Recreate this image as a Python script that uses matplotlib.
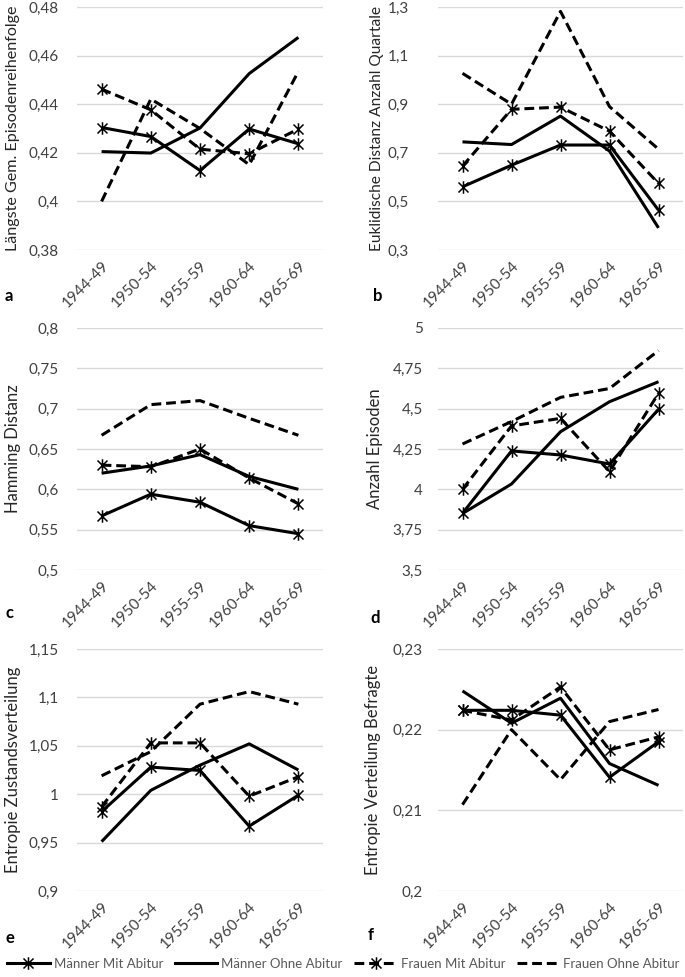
import matplotlib
matplotlib.use('Agg')
import matplotlib.pyplot as plt
from matplotlib.path import Path
from matplotlib.lines import Line2D

plt.rcParams['font.family'] = ['Lato', 'DejaVu Sans']

cohorts = ['1944-49', '1950-54', '1955-59', '1960-64', '1965-69']
series = ['Männer Mit Abitur', 'Männer Ohne Abitur', 'Frauen Mit Abitur', 'Frauen Ohne Abitur']

# panel a: Längste Gem. Episodenreihenfolge
a_mm = [0.4304, 0.4267, 0.4127, 0.4298, 0.4237]
a_mo = [0.4205, 0.4199, 0.4302, 0.4526, 0.4675]
a_fm = [0.4462, 0.4377, 0.4215, 0.4196, 0.4298]
a_fo = [0.4000, 0.4421, 0.4300, 0.4151, 0.4535]

# panel b: Euklidische Distanz Anzahl Quartale
b_mm = [0.560, 0.649, 0.732, 0.732, 0.464]
b_mo = [0.745, 0.734, 0.851, 0.707, 0.391]
b_fm = [0.645, 0.879, 0.888, 0.789, 0.574]
b_fo = [1.027, 0.900, 1.282, 0.890, 0.715]

# panel c: Hamming Distanz
c_mm = [0.567, 0.594, 0.584, 0.555, 0.545]
c_mo = [0.620, 0.629, 0.643, 0.616, 0.600]
c_fm = [0.630, 0.628, 0.650, 0.614, 0.582]
c_fo = [0.667, 0.705, 0.710, 0.688, 0.667]

# panel d: Anzahl Episoden
d_mm = [3.851, 4.238, 4.213, 4.157, 4.496]
d_mo = [3.850, 4.033, 4.357, 4.543, 4.667]
d_fm = [4.000, 4.393, 4.440, 4.110, 4.595]
d_fo = [4.281, 4.420, 4.570, 4.625, 4.860]

# panel e: Entropie Zustandsverteilung
e_mm = [0.982, 1.028, 1.0245, 0.967, 0.999]
e_mo = [0.951, 1.004, 1.030, 1.052, 1.025]
e_fm = [0.987, 1.053, 1.053, 0.998, 1.018]
e_fo = [1.019, 1.044, 1.093, 1.106, 1.093]

# panel f: Entropie Verteilung Befragte
f_mm = [0.2224, 0.2224, 0.2218, 0.2141, 0.2185]
f_mo = [0.2248, 0.2208, 0.2239, 0.2158, 0.2131]
f_fm = [0.2224, 0.2212, 0.2253, 0.2175, 0.2191]
f_fo = [0.2107, 0.2200, 0.2138, 0.2210, 0.2225]

panels = [
    ('a', 'Längste Gem. Episodenreihenfolge', [a_mm, a_mo, a_fm, a_fo],
     [0.38, 0.40, 0.42, 0.44, 0.46, 0.48], ['0,38', '0,4', '0,42', '0,44', '0,46', '0,48']),
    ('b', 'Euklidische Distanz Anzahl Quartale', [b_mm, b_mo, b_fm, b_fo],
     [0.3, 0.5, 0.7, 0.9, 1.1, 1.3], ['0,3', '0,5', '0,7', '0,9', '1,1', '1,3']),
    ('c', 'Hamming Distanz', [c_mm, c_mo, c_fm, c_fo],
     [0.5, 0.55, 0.6, 0.65, 0.7, 0.75, 0.8], ['0,5', '0,55', '0,6', '0,65', '0,7', '0,75', '0,8']),
    ('d', 'Anzahl Episoden', [d_mm, d_mo, d_fm, d_fo],
     [3.5, 3.75, 4.0, 4.25, 4.5, 4.75, 5.0], ['3,5', '3,75', '4', '4,25', '4,5', '4,75', '5']),
    ('e', 'Entropie Zustandsverteilung', [e_mm, e_mo, e_fm, e_fo],
     [0.9, 0.95, 1.0, 1.05, 1.1, 1.15], ['0,9', '0,95', '1', '1,05', '1,1', '1,15']),
    ('f', 'Entropie Verteilung Befragte', [f_mm, f_mo, f_fm, f_fo],
     [0.20, 0.21, 0.22, 0.23], ['0,2', '0,21', '0,22', '0,23']),
]

star = Path([(-1, -1), (1, 1), (-1, 1), (1, -1), (0, -1.25), (0, 1.25)],
            [Path.MOVETO, Path.LINETO, Path.MOVETO, Path.LINETO, Path.MOVETO, Path.LINETO])

styles = [
    dict(color='black', lw=2.2, marker=star, ms=9, mew=1.1, mfc='none', mec='black'),
    dict(color='black', lw=2.2),
    dict(color='black', lw=2.2, dashes=(3.2, 1.6), marker=star, ms=9, mew=1.1, mfc='none', mec='black'),
    dict(color='black', lw=2.2, dashes=(3.2, 1.6)),
]

W, H = 685, 977
fig = plt.figure(figsize=(W / 100, H / 100), dpi=100)

# pixel boxes (left, top, right, bottom) of plot areas
boxes = [(77, 7, 323, 250), (438, 7, 683, 250),
         (77, 328, 323, 570), (438, 328, 683, 570),
         (77, 649, 323, 891), (438, 649, 683, 891)]
ylabel_x = [13, 377, 13, 375, 13, 373]
ylabel_size = [11.6, 11.2, 12, 12, 12, 12]
ytick_pad = [13, 21, 13, 11, 13, 11]
letters_xy = [(5, 296), (373, 296), (5, 613), (370, 618), (5, 938), (368, 935)]

x = list(range(len(cohorts)))
for (letter, ylabel, data, yt, ytl), box, lx, ls, pad, lxy in zip(panels, boxes, ylabel_x, ylabel_size,
                                                                  ytick_pad, letters_xy):
    l, t, r, b = box
    ax = fig.add_axes([l / W, 1 - b / H, (r - l) / W, (b - t) / H])
    for vals, st in zip(data, styles):
        ax.plot(x, vals, solid_capstyle='butt', dash_capstyle='butt', **st)
    ax.set_xlim(-0.5, 4.5)
    ax.set_ylim(yt[0], yt[-1])
    ax.set_yticks(yt)
    ax.set_yticklabels(ytl)
    ax.set_xticks(x)
    ax.set_xticklabels(cohorts, rotation=45, ha='right', va='top', rotation_mode='anchor')
    ax.tick_params(axis='both', length=0, labelsize=11, colors='#404040')
    ax.tick_params(axis='y', pad=pad)
    ax.tick_params(axis='x', pad=6)
    for sp in ax.spines.values():
        sp.set_visible(False)
    ax.grid(axis='y', color='#d9d9d9', lw=1)
    ax.set_axisbelow(True)
    ax.set_ylabel(ylabel, fontsize=ls, color='#262626')
    ax.yaxis.set_label_coords(lx / W, 1 - (t + b) / 2 / H, transform=fig.transFigure)
    ax.yaxis.label.set_va('center')
    fig.text(lxy[0] / W, 1 - lxy[1] / H, letter, fontsize=12, fontweight='bold',
             ha='left', va='center', color='black')

handles = [Line2D([], [], **st) for st in styles]
fig.legend(handles, series, loc='lower left', bbox_to_anchor=(0.003, 0.002, 0.997, 0.025),
           mode='expand', ncol=4, frameon=False, fontsize=9.5, handlelength=3.2,
           handletextpad=0.3, borderaxespad=0, labelcolor='#595959')

fig.savefig('out.png', dpi=100)
